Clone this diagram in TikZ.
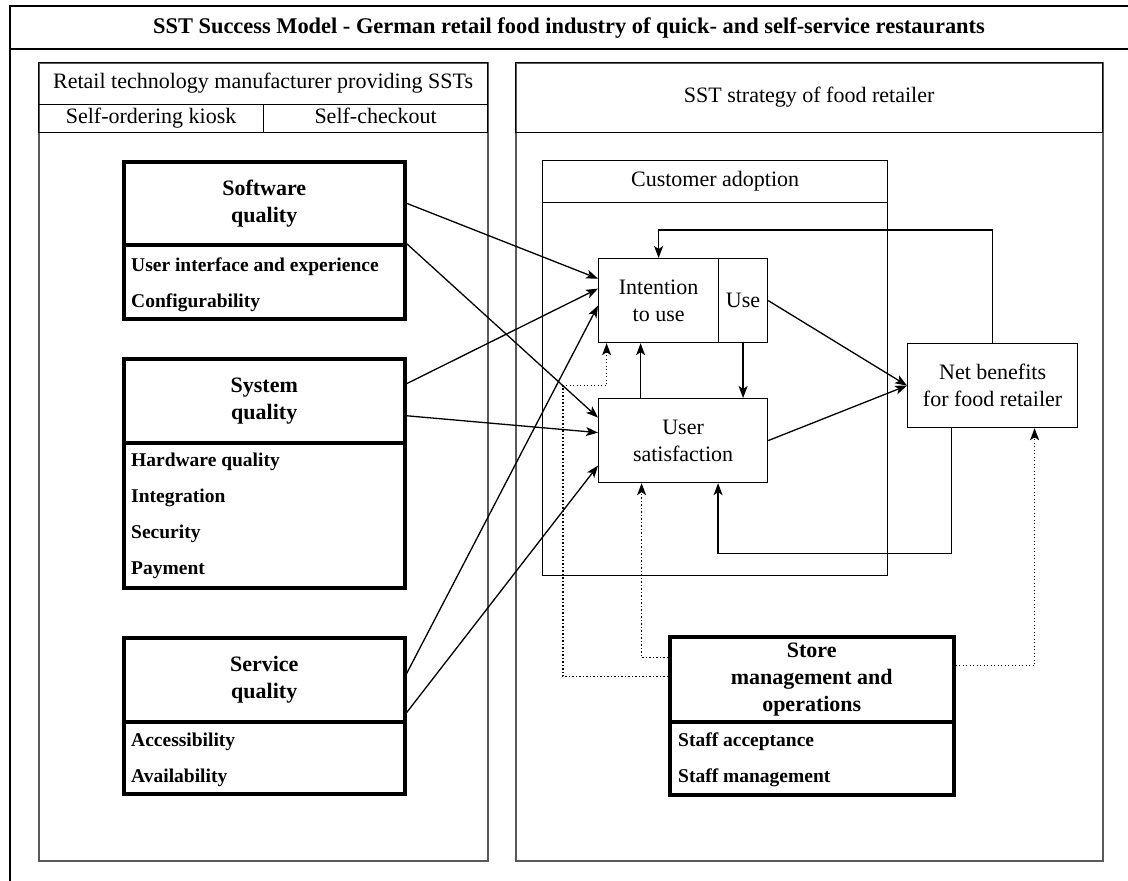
\documentclass[tikz,border=0pt]{standalone}
\usepackage{fontspec}
\setmainfont{Liberation Serif}
\usetikzlibrary{arrows.meta}

\newlength{\du}
\setlength{\du}{1pt}

\definecolor{dialinecolor}{rgb}{0.000000, 0.000000, 0.000000}
\definecolor{panelcolor}{rgb}{0.350000, 0.350000, 0.350000}

\newcommand{\txtfont}{\fontsize{22}{27}\selectfont}
\newcommand{\headfont}{\fontsize{22}{27}\selectfont\bfseries}
\newcommand{\itemfont}{\fontsize{19.5}{23}\selectfont\bfseries}
\newcommand{\titlefont}{\fontsize{22.4}{26}\selectfont\bfseries}

\begin{document}
\begin{tikzpicture}[x=1\du,y=-1\du,
  frame/.style={draw=dialinecolor,line width=1.4\du},
  panel/.style={draw=panelcolor,line width=1.6\du,anchor=north west,inner sep=0pt},
  cell/.style={draw=dialinecolor,line width=1.2\du,anchor=north west,inner sep=0pt,align=center,font=\txtfont},
  qhead/.style={draw=dialinecolor,line width=3.5\du,anchor=north west,inner sep=0pt,align=center,font=\headfont},
  qlist/.style={draw=dialinecolor,line width=3.5\du,anchor=north west,inner sep=0pt},
  item/.style={anchor=west,inner sep=0pt,font=\itemfont},
  conn/.style={-{Stealth[length=12pt,width=9pt,inset=3pt]},line width=1.3pt},
  infl/.style={conn,dash pattern=on 1.3pt off 2.2pt}]
\useasboundingbox (0,0) rectangle (1128,881);
\clip (0,0) rectangle (1128,881);

% outer frame
\draw[frame] (10,6) rectangle (1160,920);
\draw[frame] (10,49) -- (1160,49);
\node[font=\titlefont] (title) at (569,28) {SST Success Model - German retail food industry of quick- and self-service restaurants};

% manufacturer side
\node[panel,minimum width=449\du,minimum height=798\du] (maker) at (38,62) {};
\node[cell,minimum width=449\du,minimum height=42\du] (makerhead) at (38,62) {Retail technology manufacturer providing SSTs};
\node[cell,minimum width=225\du,minimum height=28\du,text height=15\du,text depth=5\du] (kiosk) at (38,104) {Self-ordering kiosk};
\node[cell,minimum width=224\du,minimum height=28\du,text height=15\du,text depth=5\du] (checkout) at (263,104) {Self-checkout};

% retailer side
\node[panel,minimum width=587\du,minimum height=798\du] (retailer) at (515,62) {};
\node[cell,minimum width=587\du,minimum height=70\du] (strategy) at (515,62) {SST strategy of food retailer};
\node[cell,minimum width=345\du,minimum height=415\du] (adoption) at (542,160) {};
\node[cell,minimum width=345\du,minimum height=42\du] (adoptionhead) at (542,160) {Customer adoption};

\node[cell,minimum width=120\du,minimum height=84\du] (intent) at (598,258) {Intention\\to use};
\node[cell,minimum width=49\du,minimum height=84\du] (use) at (718,258) {Use};
\node[cell,minimum width=169\du,minimum height=84\du] (satis) at (598,398) {User\\satisfaction};
\node[cell,minimum width=170\du,minimum height=84\du] (benefit) at (907,343) {Net benefits\\for food retailer};

% quality dimensions
\node[qhead,minimum width=281\du,minimum height=83\du] (swq) at (122,160) {Software\\quality};
\node[qlist,minimum width=281\du,minimum height=74\du] (swqlist) at (122,243) {};
\node[item] (swq1) at (131,267) {User interface and experience};
\node[item] (swq2) at (131,303) {Configurability};

\node[qhead,minimum width=281\du,minimum height=84\du] (sysq) at (122,357) {System\\quality};
\node[qlist,minimum width=281\du,minimum height=145\du] (sysqlist) at (122,441) {};
\node[item] (sysq1) at (131,462) {Hardware quality};
\node[item] (sysq2) at (131,498) {Integration};
\node[item] (sysq3) at (131,534) {Security};
\node[item] (sysq4) at (131,570) {Payment};

\node[qhead,minimum width=281\du,minimum height=84\du] (srvq) at (122,636) {Service\\quality};
\node[qlist,minimum width=281\du,minimum height=72\du] (srvqlist) at (122,720) {};
\node[item] (srvq1) at (131,742) {Accessibility};
\node[item] (srvq2) at (131,778) {Availability};

\node[qhead,minimum width=284\du,minimum height=85\du] (store) at (668,635) {Store\\management and\\operations};
\node[qlist,minimum width=284\du,minimum height=73\du] (storelist) at (668,720) {};
\node[item] (store1) at (678,742) {Staff acceptance};
\node[item] (store2) at (678,778) {Staff management};

% success paths
\draw[conn] (swq.east) -- ([yshift=22pt]intent.west);
\draw[conn] ([yshift=3pt]swq.south east) -- ([yshift=23pt]satis.west);
\draw[conn] ([yshift=17pt]sysq.east) -- ([yshift=12pt]intent.west);
\draw[conn] ([yshift=-15pt]sysq.east) -- ([yshift=8pt]satis.west);
\draw[conn] ([yshift=6pt]srvq.east) -- ([yshift=-5pt]intent.west);
\draw[conn] ([yshift=-33pt]srvq.east) -- ([yshift=-25pt]satis.west);
\draw[conn] (use.east) -- (benefit.west);
\draw[conn] (satis.east) -- (benefit.west);
\draw[conn] ([xshift=-18pt]intent.south |- satis.north) -- ([xshift=-18pt]intent.south);
\draw[conn] (use.south) -- (use.south |- satis.north);
\draw[conn] (benefit.north) -- ++(0,-113) -| (intent.north);
\draw[conn] ([xshift=-41pt]benefit.south) -- ++(0,125) -| ([xshift=35pt]satis.south);

% store influence
\draw[infl] ([yshift=2.5pt]store.west) -- ++(-105,0) -- ++(0,-291) -| ([xshift=-52pt]intent.south);
\draw[infl] ([yshift=21.5pt]store.west) -| ([xshift=-41.5pt]satis.south);
\draw[infl] ([yshift=13.5pt]store.east) -| ([xshift=42pt]benefit.south);
\end{tikzpicture}
\end{document}
